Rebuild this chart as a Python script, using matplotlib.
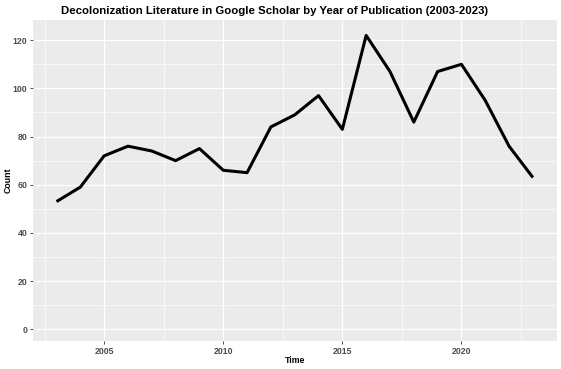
import matplotlib
matplotlib.use('Agg')
import matplotlib.pyplot as plt
from matplotlib import font_manager
from matplotlib.ticker import MultipleLocator

years = list(range(2003, 2024))
counts = [53, 59, 72, 76, 74, 70, 75, 66, 65, 84, 89, 97, 83, 122, 107, 86, 107, 110, 95, 76, 63]

title = 'Decolonization Literature in Google Scholar by Year of Publication (2003-2023)'

# pick the regular-width Liberation Sans Bold (avoid the Narrow variant)
bold_file = None
for f in font_manager.fontManager.ttflist:
    if f.name == 'Liberation Sans' and f.weight in (700, 'bold') and f.style == 'normal':
        bold_file = f.fname
        break


def bold(size):
    if bold_file:
        return font_manager.FontProperties(fname=bold_file, size=size)
    return font_manager.FontProperties(family='Liberation Sans', weight='bold', size=size)


fig = plt.figure(figsize=(5.61, 3.69), dpi=100)
ax = fig.add_axes([32.7 / 561, 28 / 369, 524 / 561, 321 / 369])
ax.set_facecolor('#EBEBEB')

ax.plot(years, counts, color='black', linewidth=2.2, solid_capstyle='butt', zorder=3)

ax.set_xlim(2002, 2024)
ax.set_ylim(-4.9, 128.4)
ax.xaxis.set_major_locator(MultipleLocator(5))
ax.xaxis.set_minor_locator(MultipleLocator(2.5))
ax.yaxis.set_major_locator(MultipleLocator(20))
ax.yaxis.set_minor_locator(MultipleLocator(10))

ax.grid(which='major', color='white', linewidth=0.9)
ax.grid(which='minor', color='white', linewidth=0.45)
ax.set_axisbelow(True)
for s in ax.spines.values():
    s.set_visible(False)

ax.tick_params(which='major', length=2.5, width=0.6, color='#333333',
               labelcolor='#4D4D4D', pad=1.5)
ax.tick_params(which='minor', length=0)
for lab in ax.get_xticklabels() + ax.get_yticklabels():
    lab.set_fontproperties(bold(6.3))

ax.set_xlabel('Time', fontproperties=bold(6.3))
ax.set_ylabel('Count', fontproperties=bold(6.3))
ax.xaxis.set_label_coords(0.5, -0.048)
ax.yaxis.set_label_coords(-0.038, 0.5)

t = fig.text(274.5 / 561, 1 - 11 / 369, title, ha='center', va='center',
             fontproperties=bold(8))
# scale title so it spans about 427 px like the reference
fig.canvas.draw()
w = t.get_window_extent().width
t.set_fontsize(8 * 427 / w)

fig.savefig('out.png', dpi=100)
